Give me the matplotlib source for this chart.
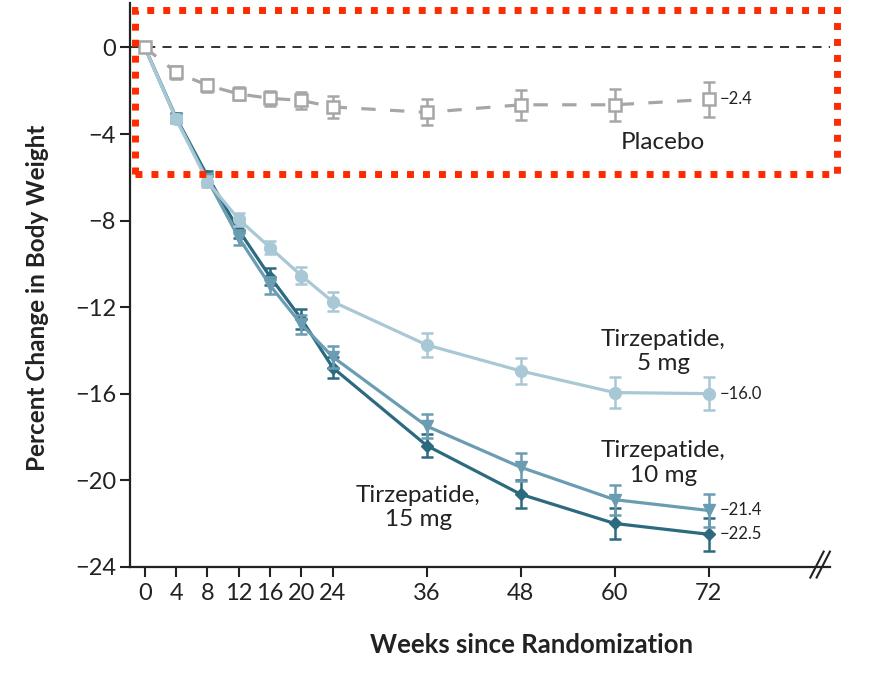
import matplotlib
matplotlib.use("Agg")
import matplotlib.pyplot as plt
from matplotlib.patches import Rectangle

plt.rcParams['font.family'] = ['Lato', 'DejaVu Sans']

# data
weeks = [0, 4, 8, 12, 16, 20, 24, 36, 48, 60, 72]
placebo = [0, -1.15, -1.75, -2.15, -2.35, -2.45, -2.75, -3.0, -2.65, -2.65, -2.4]
placebo_err = [0, 0.3, 0.3, 0.3, 0.35, 0.4, 0.5, 0.6, 0.7, 0.75, 0.8]
tz5 = [0, -3.3, -6.2, -7.95, -9.25, -10.55, -11.75, -13.75, -14.95, -15.95, -16.0]
tz5_err = [0, 0.2, 0.25, 0.3, 0.3, 0.4, 0.45, 0.55, 0.6, 0.7, 0.75]
tz10 = [0, -3.3, -6.1, -8.8, -11.0, -12.8, -14.3, -17.5, -19.4, -20.9, -21.4]
tz10_err = [0, 0.2, 0.25, 0.35, 0.4, 0.45, 0.5, 0.55, 0.65, 0.7, 0.75]
tz15 = [0, -3.25, -5.95, -8.45, -10.6, -12.55, -14.8, -18.4, -20.65, -22.0, -22.5]
tz15_err = [0, 0.2, 0.25, 0.35, 0.4, 0.45, 0.5, 0.55, 0.65, 0.7, 0.75]

xticks = [0, 4, 8, 12, 16, 20, 24, 36, 48, 60, 72]
yticks = [0, -4, -8, -12, -16, -20, -24]

c_pl = '#a6a6a6'
c5 = '#a9c8d5'
c10 = '#6b9db2'
c15 = '#2c6a80'
ink = '#222222'

fig = plt.figure(figsize=(8.86, 6.75), dpi=100)
ax = fig.add_axes([0.1467, 0.1604, 0.790, 0.835])

# zero line
ax.axhline(0, color=ink, lw=1.3, ls=(0, (5, 4)), zorder=1)

ax.errorbar(weeks, tz15, yerr=tz15_err, color=c15, lw=2.3, marker='D', ms=6.5,
            capsize=4.5, capthick=1.8, elinewidth=1.8, zorder=3)
ax.errorbar(weeks, tz10, yerr=tz10_err, color=c10, lw=2.3, marker='v', ms=8.5,
            capsize=4.5, capthick=1.8, elinewidth=1.8, zorder=4)
ax.errorbar(weeks, tz5, yerr=tz5_err, color=c5, lw=2.3, marker='o', ms=8.5,
            capsize=4.5, capthick=1.8, elinewidth=1.8, zorder=5)
ax.errorbar(weeks, placebo, yerr=placebo_err, color=c_pl, lw=2.3, ls=(0, (4.5, 4.5)),
            marker='s', ms=8, mfc='white', mec=c_pl, mew=1.8,
            capsize=4.5, capthick=1.8, elinewidth=1.8, zorder=6)

# end-point labels
for val, lab in [(placebo[-1], '\u22122.4'), (tz5[-1], '\u221216.0'),
                 (tz10[-1], '\u221221.4'), (tz15[-1], '\u221222.5')]:
    ax.text(73.4, val, lab, fontsize=12, va='center', ha='left', color=ink)

# series labels
ax.text(66.2, -4.4, 'Placebo', fontsize=17.5, ha='center', va='center', color=ink)
ax.text(66.2, -14.05, 'Tirzepatide,\n5 mg', fontsize=17.5, ha='center', va='center',
        color=ink, linespacing=1.2)
ax.text(66.2, -19.2, 'Tirzepatide,\n10 mg', fontsize=17.5, ha='center', va='center',
        color=ink, linespacing=1.2)
ax.text(34.9, -21.25, 'Tirzepatide,\n15 mg', fontsize=17.5, ha='center', va='center',
        color=ink, linespacing=1.2)

ax.set_xlim(-1.9, 87.5)
ax.set_ylim(-24, 2.05)
ax.set_xticks(xticks)
ax.set_yticks(yticks)
ax.set_yticklabels([str(v).replace('-', '\u2212') for v in yticks])
ax.tick_params(labelsize=17, length=7, width=1.5, colors=ink)
ax.tick_params(axis='x', pad=5)
ax.tick_params(axis='y', pad=3)
ax.spines['top'].set_visible(False)
ax.spines['right'].set_visible(False)
for s in ['left', 'bottom']:
    ax.spines[s].set_linewidth(1.6)
    ax.spines[s].set_color(ink)

ax.set_xlabel('Weeks since Randomization', fontsize=18.5, fontweight='bold', color=ink)
ax.set_ylabel('Percent Change in Body Weight', fontsize=17.5, fontweight='bold', color=ink)
ax.xaxis.set_label_coords(0.574, -0.117)
ax.yaxis.set_label_coords(-0.116, 0.478)

# axis break mark
for dx in [0, 0.8]:
    ax.plot([85.0 + dx, 86.7 + dx], [-24.5, -23.3], color=ink, lw=1.5,
            clip_on=False, zorder=7)

# red dotted highlight box
fig.patches.append(Rectangle((0.152, 0.742), 0.793, 0.243, transform=fig.transFigure,
                             fill=False, edgecolor='#ff2a00', lw=5,
                             ls=(0, (1, 1.3)), zorder=10))

fig.savefig('out.png', dpi=100)
